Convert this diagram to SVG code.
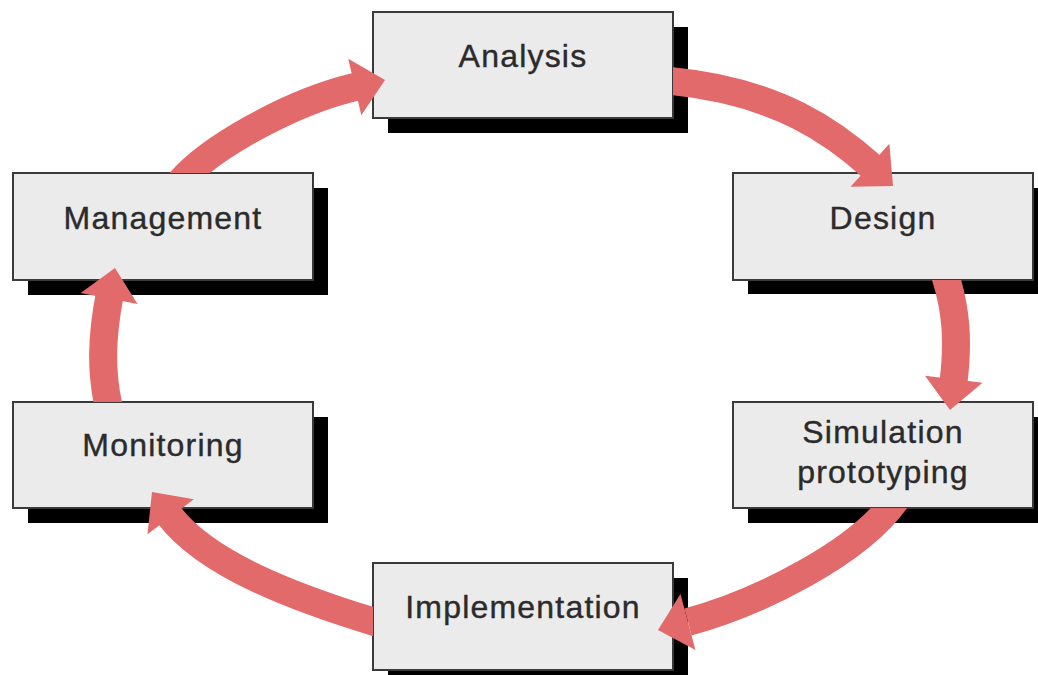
<svg xmlns="http://www.w3.org/2000/svg" xmlns:xlink="http://www.w3.org/1999/xlink" width="1038" height="675" viewBox="0 0 1038 675">
  <defs>
    <style>
      .shadow { fill: #000000; }
      .box { fill: #ebebeb; stroke: #3a3a3a; stroke-width: 2; }
      .label { font-family: "Liberation Sans", Arial, sans-serif; font-size: 32px; letter-spacing: 1.2px; fill: #2b2b2b; stroke: #2b2b2b; stroke-width: 0.4; text-anchor: middle; }
      .shaft { fill: none; stroke: #e26a6a; stroke-width: 28; stroke-linecap: butt; }
      .head { fill: #e26a6a; }
    </style>
    <polygon id="arrowhead" class="head" points="0,0 -31,-29 -31,29"/>
    <clipPath id="clip-up-173"><rect x="0" y="0" width="1038" height="173"/></clipPath>
    <clipPath id="clip-right-673"><rect x="673" y="0" width="365" height="675"/></clipPath>
    <clipPath id="clip-down-280"><rect x="0" y="280" width="1038" height="395"/></clipPath>
    <clipPath id="clip-down-508"><rect x="0" y="508" width="1038" height="167"/></clipPath>
    <clipPath id="clip-left-373"><rect x="0" y="0" width="373" height="675"/></clipPath>
    <clipPath id="clip-up-402"><rect x="0" y="0" width="1038" height="402"/></clipPath>
  </defs>
  <rect width="1038" height="675" fill="#ffffff"/>

  <g id="node-analysis">
    <rect class="shadow" x="388" y="27" width="300" height="106"/>
    <rect class="box" x="373" y="12" width="300" height="106"/>
    <text class="label" x="523" y="67">Analysis</text>
  </g>
  <g id="node-design">
    <rect class="shadow" x="748" y="188" width="300" height="106"/>
    <rect class="box" x="733" y="173" width="300" height="107"/>
    <text class="label" x="883" y="229">Design</text>
  </g>
  <g id="node-simulation">
    <rect class="shadow" x="748" y="417" width="300" height="106"/>
    <rect class="box" x="733" y="402" width="300" height="106"/>
    <text class="label" x="883" y="443">Simulation</text>
    <text class="label" x="883" y="483">prototyping</text>
  </g>
  <g id="node-implementation">
    <rect class="shadow" x="388" y="578" width="300" height="107"/>
    <rect class="box" x="373" y="563" width="300" height="107"/>
    <text class="label" x="523" y="618">Implementation</text>
  </g>
  <g id="node-monitoring">
    <rect class="shadow" x="28" y="417" width="300" height="106"/>
    <rect class="box" x="13" y="402" width="300" height="106"/>
    <text class="label" x="163" y="456">Monitoring</text>
  </g>
  <g id="node-management">
    <rect class="shadow" x="28" y="188" width="300" height="107"/>
    <rect class="box" x="13" y="173" width="300" height="107"/>
    <text class="label" x="163" y="229">Management</text>
  </g>

  <g id="connectors">
    <!-- Management -> Analysis -->
    <path class="shaft" clip-path="url(#clip-up-173)" d="M 177 186 C 205 150, 290 102, 357 86.5"/>
    <use xlink:href="#arrowhead" transform="translate(385 80) rotate(-13)"/>
    <!-- Analysis -> Design -->
    <path class="shaft" clip-path="url(#clip-right-673)" d="M 658 80 C 780 88, 841 139, 872 167"/>
    <use xlink:href="#arrowhead" transform="translate(893 186) rotate(42)"/>
    <!-- Design -> Simulation -->
    <path class="shaft" clip-path="url(#clip-down-280)" d="M 942 266 C 958 310, 957.9 345.4, 953.5 382"/>
    <use xlink:href="#arrowhead" transform="translate(950 410) rotate(97)"/>
    <!-- Simulation -> Implementation -->
    <path class="shaft" clip-path="url(#clip-down-508)" d="M 899 495 C 862 553, 754.6 604.1, 688 622"/>
    <use xlink:href="#arrowhead" transform="translate(658 630) rotate(165)"/>
    <!-- Implementation -> Monitoring -->
    <path class="shaft" clip-path="url(#clip-left-373)" d="M 388 626 C 293 598, 206 564, 169 515"/>
    <use xlink:href="#arrowhead" transform="translate(152 492) rotate(-127)"/>
    <!-- Monitoring -> Management -->
    <path class="shaft" clip-path="url(#clip-up-402)" d="M 111 416 C 99 372, 102.6 331.9, 109.5 296"/>
    <use xlink:href="#arrowhead" transform="translate(115 268) rotate(-79)"/>
  </g>
</svg>
